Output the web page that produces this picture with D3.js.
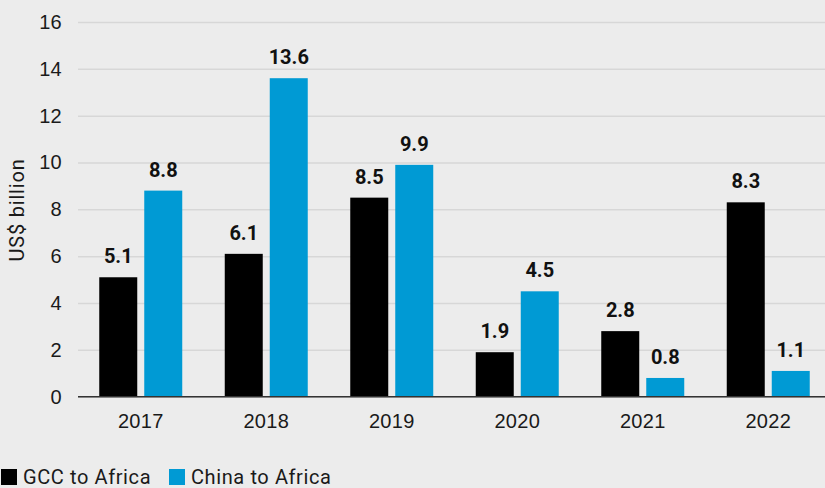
<!DOCTYPE html>
<html>
<head>
<meta charset="utf-8">
<script src="https://cdn.jsdelivr.net/npm/d3@7"></script>
<style>
  body { margin: 0; background: #ececec; }
  svg { display: block; font-family: Roboto, "Liberation Sans", sans-serif; }
</style>
</head>
<body>
<div id="chart"></div>
<script>
// data
const years = ["2017", "2018", "2019", "2020", "2021", "2022"];
const gcc = [5.1, 6.1, 8.5, 1.9, 2.8, 8.3];
const china = [8.8, 13.6, 9.9, 4.5, 0.8, 1.1];
const seriesNames = ["GCC to Africa", "China to Africa"];
const seriesColors = ["#000000", "#009ad4"];
const yTicks = [0, 2, 4, 6, 8, 10, 12, 14, 16];

const width = 825, height = 488;
const margin = {top: 22, right: -6, bottom: 91, left: 78};

let svg = d3.select("#chart")
    .append("svg")
        .attr("width", width)
        .attr("height", height);

svg.append("rect")
    .attr("width", width)
    .attr("height", height)
    .attr("fill", "#ececec");

let x = d3.scaleBand()
    .domain(years)
    .range([margin.left, width - margin.right])
    .padding(0);

let y = d3.scaleLinear()
    .domain([0, 16])
    .range([height - margin.bottom - 0.3, margin.top]);

const barW = 38, gap = 7;
let sub = d3.scaleOrdinal()
    .domain(seriesNames)
    .range([-(barW + gap / 2), gap / 2]);

//gridlines + y tick labels
let yAxis = svg.append("g")
    .attr("transform", `translate(${margin.left}, 0)`)
    .call(d3.axisLeft(y).tickValues(yTicks).tickSize(-(width - margin.left)).tickPadding(16));
yAxis.select(".domain").remove();
yAxis.selectAll(".tick line")
    .attr("stroke", "#d7d7d7")
    .attr("stroke-width", 1.5);
yAxis.selectAll(".tick text")
    .attr("fill", "#1a1a1a")
    .style("font-size", "20px")
    .style("letter-spacing", "0.3px");

//rows of bars, one per series
let rows = seriesNames.map((name, s) => years.map((yr, i) => ({
    year: yr, name: name, value: (s === 0 ? gcc : china)[i]
})));

rows.forEach((row, s) => {
    svg.append("g")
        .selectAll("rect")
        .data(row)
        .enter()
        .append("rect")
            .attr("x", d => x(d.year) + x.bandwidth() / 2 + sub(d.name))
            .attr("y", d => y(d.value))
            .attr("width", barW)
            .attr("height", d => y(0) - y(d.value))
            .attr("fill", seriesColors[s]);

    svg.append("g")
        .selectAll("text")
        .data(row)
        .enter()
        .append("text")
            .attr("x", d => x(d.year) + x.bandwidth() / 2 + sub(d.name) + barW / 2)
            .attr("y", d => y(d.value) - 14)
            .attr("text-anchor", "middle")
            .attr("fill", "#111")
            .style("font-size", "20px")
            .style("font-weight", 700)
            .text(d => d.value.toFixed(1));
});

//x axis
let xAxis = svg.append("g")
    .attr("transform", `translate(0, ${y(0)})`)
    .call(d3.axisBottom(x).tickSize(0).tickPadding(17));
xAxis.select(".domain")
    .attr("stroke", "#333")
    .attr("stroke-width", 1.5)
    .attr("d", `M${margin.left},0H${width}`);
xAxis.selectAll(".tick text")
    .attr("fill", "#1a1a1a")
    .style("font-size", "20px")
    .style("letter-spacing", "0.3px");

//y axis title
svg.append("text")
    .attr("transform", `translate(24, 210) rotate(-90)`)
    .attr("text-anchor", "middle")
    .attr("fill", "#1a1a1a")
    .style("font-size", "20px")
    .style("letter-spacing", "0.8px")
    .text("US$ billion");

//legend
let legend = svg.append("g").attr("class", "legend");
const legendX = [1, 169];
seriesNames.forEach((name, i) => {
    legend.append("rect")
        .attr("x", legendX[i])
        .attr("y", 469)
        .attr("width", 16)
        .attr("height", 16)
        .attr("fill", seriesColors[i]);
    legend.append("text")
        .attr("x", legendX[i] + 22)
        .attr("y", 484)
        .attr("fill", "#1a1a1a")
        .style("font-size", "20px")
        .style("letter-spacing", "0.6px")
        .text(name);
});
</script>
</body>
</html>
